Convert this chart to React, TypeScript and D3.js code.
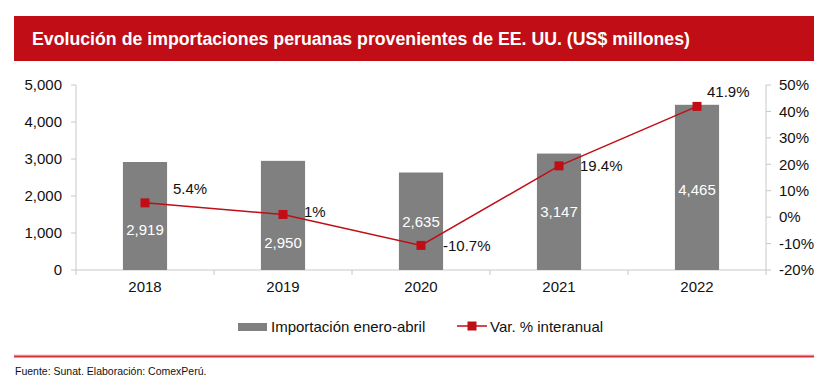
import * as d3 from "d3";

const years = ["2018", "2019", "2020", "2021", "2022"];
const imports = [2919, 2950, 2635, 3147, 4465];
const growth = [5.4, 1, -10.7, 19.4, 41.9];
const growthLabels = ["5.4%", "1%", "-10.7%", "19.4%", "41.9%"];
const leftTicks = [0, 1000, 2000, 3000, 4000, 5000];
const rightTicks = [-20, -10, 0, 10, 20, 30, 40, 50];
// label nudges, as placed in the original
const barLabelShift = [14, 27, 0, 0, 2];
const pctLabelShift = [[28, -14], [21, -3], [22, 0], [21, 0], [10, -15]];

const W = 829;
const H = 385;
const RED = "#c00d16";
const GRAY = "#808080";
const AXIS = "#c8c8c8";
const FONT = "'Liberation Sans', Arial, sans-serif";

export default function App() {
  const left = 76;
  const right = 766;
  const top = 85;
  const bottom = 270;

  const x = d3.scaleBand().domain(years).range([left, right]).paddingInner(0.68).paddingOuter(0.34);
  const y = d3.scaleLinear().domain([0, 5000]).range([bottom, top]);
  const y2 = d3.scaleLinear().domain([-20, 50]).range([bottom, top]);
  const cx = (yr: string) => (x(yr) ?? 0) + x.bandwidth() / 2;
  const step = (right - left) / years.length;

  const line = d3
    .line<number>()
    .x((_, i) => cx(years[i]))
    .y((d) => y2(d));

  return (
    <svg
      width={W}
      height={H}
      style={{ position: "absolute", left: 0, top: 0, background: "#fff" }}
      fontFamily={FONT}
    >
      <rect x={14} y={16} width={800} height={45} fill={RED} />
      <text x={32} y={45} fill="#fff" fontSize={17.5} fontWeight="bold" textLength={658} lengthAdjust="spacingAndGlyphs">
        Evolución de importaciones peruanas provenientes de EE. UU. (US$ millones)
      </text>

      {/* axes */}
      <line x1={left} x2={left} y1={top} y2={bottom} stroke={AXIS} />
      {leftTicks.map((t) => (
        <g key={t}>
          <line x1={left - 5} x2={left} y1={y(t)} y2={y(t)} stroke={AXIS} />
          <text x={62} y={y(t)} dy="0.35em" textAnchor="end" fontSize={15} fill="#111">
            {d3.format(",")(t)}
          </text>
        </g>
      ))}
      <line x1={right} x2={right} y1={top} y2={bottom} stroke={AXIS} />
      {rightTicks.map((t) => (
        <g key={t}>
          <line x1={right} x2={right + 5} y1={y2(t)} y2={y2(t)} stroke={AXIS} />
          <text x={779} y={y2(t)} dy="0.35em" fontSize={15} fill="#111">
            {t}%
          </text>
        </g>
      ))}
      <line x1={left} x2={right} y1={bottom} y2={bottom} stroke={AXIS} />
      {d3.range(years.length + 1).map((i) => (
        <line key={i} x1={left + i * step} x2={left + i * step} y1={bottom} y2={bottom + 5} stroke={AXIS} />
      ))}
      {years.map((yr) => (
        <text key={yr} x={cx(yr)} y={292} textAnchor="middle" fontSize={15} fill="#111">
          {yr}
        </text>
      ))}

      {/* bars */}
      {imports.map((v, i) => (
        <g key={years[i]}>
          <rect x={x(years[i])} y={y(v)} width={x.bandwidth()} height={bottom - y(v)} fill={GRAY} />
          <text
            x={cx(years[i])}
            y={(y(v) + bottom) / 2 + barLabelShift[i]}
            dy="0.35em"
            textAnchor="middle"
            fontSize={15}
            fill="#fff"
          >
            {d3.format(",")(v)}
          </text>
        </g>
      ))}

      {/* line */}
      <path d={line(growth) ?? ""} fill="none" stroke={RED} strokeWidth={1.5} />
      {growth.map((v, i) => (
        <g key={years[i]}>
          <rect x={cx(years[i]) - 4.5} y={y2(v) - 4.5} width={9} height={9} fill={RED} />
          <text
            x={cx(years[i]) + pctLabelShift[i][0]}
            y={y2(v) + pctLabelShift[i][1]}
            dy="0.35em"
            fontSize={15}
            fill="#111"
          >
            {growthLabels[i]}
          </text>
        </g>
      ))}

      {/* legend */}
      <rect x={238} y={323} width={29} height={8} fill={GRAY} />
      <text x={271} y={332} fontSize={15} fill="#111">
        Importación enero-abril
      </text>
      <line x1={457} x2={487} y1={326} y2={326} stroke={RED} strokeWidth={1.5} />
      <rect x={467.5} y={321.5} width={9} height={9} fill={RED} />
      <text x={490} y={332} fontSize={15} fill="#111">
        Var. % interanual
      </text>

      <line x1={14} x2={814} y1={355} y2={355} stroke="#f2c4c7" strokeWidth={1} />
      <line x1={14} x2={814} y1={356.5} y2={356.5} stroke="#d3303b" strokeWidth={2} />
      <text x={15} y={375} fontSize={10.5} fill="#111">
        Fuente: Sunat. Elaboración: ComexPerú.
      </text>
    </svg>
  );
}
